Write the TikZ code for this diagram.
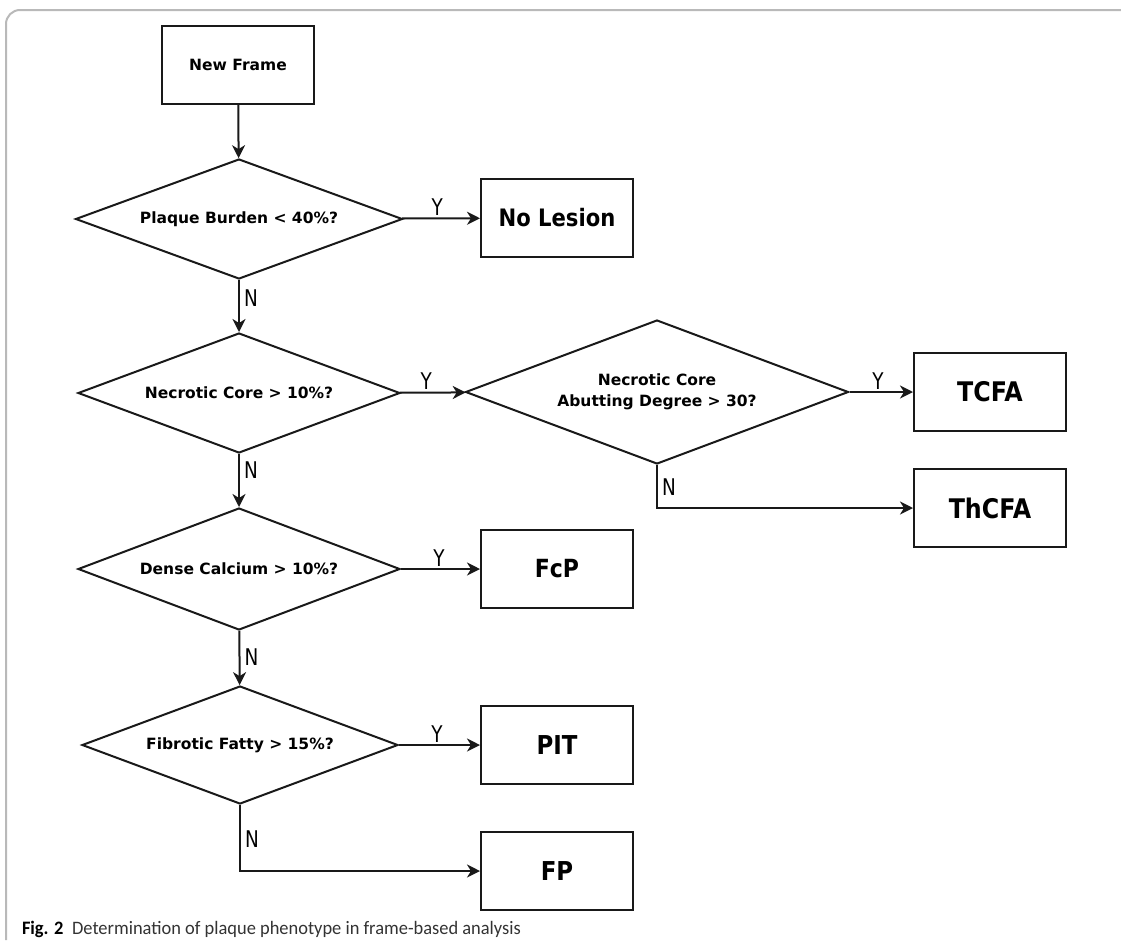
\documentclass[tikz,border=0pt]{standalone}
\usepackage{fontspec}
\setmainfont{DejaVu Sans}
\newfontfamily\bigfont[FakeStretch=0.88]{DejaVu Sans}
\newfontfamily\ynfont[FakeStretch=0.8]{DejaVu Sans}
\newfontfamily\capfont[FakeStretch=0.97]{Carlito}
\usetikzlibrary{shapes.geometric,arrows.meta}
\begin{document}
\begin{tikzpicture}[x=1pt,y=-1pt,
  line width=2pt, draw=black!90,
  arr/.style={-{Stealth[length=13pt,width=13pt,inset=4pt]}},
  box/.style={draw, rectangle, minimum width=152pt, minimum height=78pt, inner sep=0pt},
  dec/.style={draw, diamond, shape aspect=2.7, inner sep=0pt, align=center,
              font=\bfseries\fontsize{15.5}{21}\selectfont},
  lab/.style={font=\ynfont\fontsize{23}{23}\selectfont, inner sep=0pt},
  big/.style={font=\bigfont\bfseries\fontsize{27}{27}\selectfont}
]
\useasboundingbox (0,0) rectangle (1121,940);
% frame
\draw[gray!55, line width=2pt, rounded corners=14pt] (6,940) -- (6,10) -- (1121,10);

% nodes
\node[box, font=\bfseries\fontsize{15.5}{15.5}\selectfont] (new) at (238,65) {New Frame};
\node[dec, minimum width=327pt, minimum height=120pt] (d1) at (239,219) {Plaque Burden < 40\%?};
\node[box, font=\bigfont\bfseries\fontsize{24}{24}\selectfont] (nol) at (557,218) {No Lesion};
\node[dec, minimum width=322pt, minimum height=120pt] (d2) at (239,393) {Necrotic Core > 10\%?};
\node[dec, shape aspect=2.66, minimum width=383pt, minimum height=144pt] (d3) at (657,392) {Necrotic Core\\Abutting Degree > 30?};
\node[box, big] (tcfa) at (990,392) {TCFA};
\node[box, big] (thcfa) at (990,508) {ThCFA};
\node[dec, minimum width=322pt, minimum height=122pt] (d4) at (239,569) {Dense Calcium > 10\%?};
\node[box, font=\bigfont\bfseries\fontsize{25}{25}\selectfont] (fcp) at (557,569) {FcP};
\node[dec, minimum width=316pt, minimum height=118pt] (d5) at (240,745) {Fibrotic Fatty > 15\%?};
\node[box, font=\bigfont\bfseries\fontsize{26}{26}\selectfont] (pit) at (557,745) {PIT};
\node[box, font=\bigfont\bfseries\fontsize{26}{26}\selectfont] (fp) at (557,871) {FP};

% connectors
\draw[arr] (new) -- (d1);
\draw[arr] (d1) -- node[lab, above=2pt, pos=0.45] {Y} (nol);
\draw[arr] (d1) -- node[lab, right=4pt, pos=0.35] {N} (d2);
\draw[arr] (d2) -- node[lab, above=2pt, pos=0.4] {Y} (d3);
\draw[arr] (d3) -- node[lab, above=2pt, pos=0.45] {Y} (tcfa);
\draw[arr] (d3.south) |- node[lab, right=4pt, pos=0.26] {N} (thcfa.west);
\draw[arr] (d2) -- node[lab, right=4pt, pos=0.31] {N} (d4);
\draw[arr] (d4) -- node[lab, above=2pt, pos=0.48] {Y} (fcp);
\draw[arr] (d4) -- node[lab, right=4pt, pos=0.48] {N} (d5);
\draw[arr] (d5) -- node[lab, above=2pt, pos=0.47] {Y} (pit);
\draw[arr] (d5.south) |- node[lab, right=4pt, pos=0.26] {N} (fp.west);

% caption
\node[anchor=base west, inner sep=0pt, font=\capfont\fontsize{19}{19}\selectfont, text=black!80] (cap) at (21,934)
  {\textcolor{black}{\textbf{Fig. 2}}\hspace{0.45em}Determination of plaque phenotype in frame-based analysis};
\end{tikzpicture}
\end{document}
